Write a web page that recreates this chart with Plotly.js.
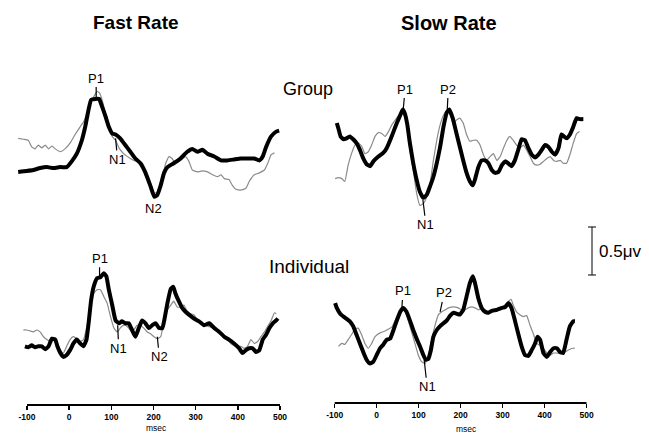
<!DOCTYPE html>
<html>
<head>
<meta charset="utf-8">
<script src="https://cdn.plot.ly/plotly-3.0.1.min.js"></script>
<style>html,body{margin:0;padding:0;background:#fff;}#plot{width:649px;height:435px;}</style>
</head>
<body>
<div id="plot"></div>
<script>
// ---- Data (time in msec, amplitude in microvolts) ----
const tickVals = [-100, 0, 100, 200, 300, 400, 500];
const tickLabels = ["-100", "0", "100", "200", "300", "400", "500"];

// Group, Fast Rate
const groupFastBlackT = [-121,-101,-85,-69,-53,-37,-21,-6,6,18,30,38,46,52,62,71,78,86,94,102,110,121,133,145,157,169,181,193,202,209,217,225,233,248,264,280,292,304,316,328,344,360,375,391,407,423,439,451,459,467,479,491,498];
const groupFastBlackV = [-0.02,-0.01,0,0.02,0.03,0.02,0.03,0.03,0.09,0.17,0.31,0.45,0.63,0.73,0.74,0.74,0.66,0.56,0.45,0.38,0.37,0.33,0.26,0.19,0.12,0.07,-0.03,-0.17,-0.28,-0.26,-0.16,-0.03,0.03,0.07,0.12,0.19,0.22,0.19,0.21,0.17,0.14,0.10,0.10,0.11,0.12,0.12,0.12,0.10,0.14,0.24,0.35,0.40,0.41];
const groupFastGrayT = [-121,-109,-97,-89,-81,-73,-65,-57,-49,-41,-33,-21,-10,2,14,26,34,42,50,58,66,72,78,86,94,102,110,118,129,145,153,161,169,181,193,202,210,221,229,237,244,252,264,276,284,292,304,316,328,340,352,360,368,379,387,395,407,419,427,439,451,463,471,479,487];
const groupFastGrayV = [0.33,0.32,0.31,0.24,0.22,0.26,0.23,0.26,0.22,0.25,0.22,0.19,0.22,0.28,0.37,0.45,0.50,0.59,0.69,0.76,0.82,0.80,0.73,0.59,0.45,0.35,0.31,0.23,0.17,0.12,0.10,0.09,0.07,-0.02,-0.14,-0.24,-0.23,-0.07,0.07,0.14,0.12,0.07,0.10,0.14,0.09,0,-0.02,-0.01,-0.02,-0.05,-0.07,-0.05,-0.09,-0.10,-0.16,-0.20,-0.21,-0.19,-0.12,-0.05,-0.03,0,0.07,0.16,0.18];

// Group, Slow Rate
const groupSlowBlackT = [-95,-91,-86,-79,-72,-64,-56,-48,-40,-32,-24,-16,-8,4,16,24,32,40,48,56,62,67,73,79,87,95,103,111,119,127,135,143,151,159,167,173,181,190,198,206,214,222,229,234,242,250,258,266,274,282,290,298,306,313,321,329,337,345,353,361,369,377,385,393,401,409,417,425,433,440,452,460,468,476,484,492];
const groupSlowBlackV = [0.49,0.43,0.35,0.32,0.33,0.35,0.32,0.28,0.21,0.12,0.06,0.04,0.09,0.14,0.18,0.23,0.31,0.40,0.49,0.57,0.63,0.59,0.47,0.28,0.07,-0.10,-0.23,-0.29,-0.26,-0.17,-0.07,0.07,0.24,0.45,0.60,0.63,0.54,0.38,0.24,0.10,-0.03,-0.12,-0.16,-0.10,0.03,0.10,0.10,0.07,0,-0.03,-0.02,0.05,0.09,0.07,0.04,0.10,0.21,0.32,0.31,0.23,0.16,0.13,0.16,0.21,0.26,0.24,0.19,0.16,0.23,0.37,0.33,0.37,0.45,0.54,0.53,0.53];
const groupSlowGrayT = [-99,-91,-83,-76,-68,-60,-52,-44,-36,-28,-20,-12,-4,4,12,20,28,36,44,52,60,67,73,79,87,95,103,111,119,127,135,143,151,159,167,175,183,190,198,206,214,222,230,238,246,254,262,270,278,286,294,302,310,317,325,333,341,349,357,365,373,381,389,397,405,413,421,429,437,444,452,460,468,476,483];
const groupSlowGrayV = [-0.09,-0.08,-0.09,-0.12,0.05,0.17,0.26,0.28,0.25,0.17,0.19,0.26,0.35,0.39,0.38,0.35,0.40,0.47,0.52,0.57,0.60,0.56,0.42,0.21,0,-0.24,-0.37,-0.35,-0.28,-0.14,0.10,0.31,0.47,0.57,0.62,0.57,0.49,0.52,0.54,0.49,0.37,0.30,0.31,0.31,0.26,0.16,0.10,0.14,0.17,0.10,0.14,0.23,0.31,0.35,0.31,0.26,0.23,0.26,0.21,0.14,0.07,0.05,0.06,0.09,0.12,0.14,0.10,0.09,0.10,0.07,0.07,0.16,0.28,0.38,0.40];

// Individual, Fast Rate
const indivFastBlackT = [-105,-97,-89,-81,-73,-65,-57,-49,-41,-33,-28,-21,-14,-6,2,10,18,26,34,41,46,52,58,66,74,82,88,94,102,110,118,125,133,141,149,157,165,173,181,189,197,205,213,221,225,233,241,247,252,260,268,276,284,296,308,320,332,344,356,368,379,391,403,411,419,427,435,443,451,459,467,475,483,491,495];
const indivFastBlackV = [-0.17,-0.18,-0.16,-0.18,-0.17,-0.17,-0.20,-0.17,-0.09,-0.10,-0.17,-0.24,-0.28,-0.26,-0.21,-0.14,-0.10,-0.14,-0.17,-0.10,0.07,0.31,0.45,0.54,0.55,0.59,0.56,0.42,0.26,0.10,0.07,0.09,0.07,0.07,0,-0.07,0.02,0.10,0.07,0.02,0.05,0.07,0.02,0.02,0.09,0.28,0.43,0.45,0.38,0.30,0.23,0.19,0.16,0.12,0.09,0.05,0.07,0.02,-0.02,-0.07,-0.10,-0.14,-0.19,-0.24,-0.21,-0.19,-0.19,-0.23,-0.21,-0.10,-0.05,0.02,0.07,0.10,0.12];
const indivFastGrayT = [-109,-101,-93,-85,-77,-69,-61,-53,-45,-37,-29,-21,-14,-6,2,10,18,26,34,42,50,58,66,74,82,90,98,106,114,121,129,137,145,153,161,169,177,185,193,201,209,217,225,233,241,248,256,264,272,280,288,296,304,312,320,328,336,344,352,360,368,375,383,391,399,407,415,423,431,439,447,455,463,471,479,487,491];
const indivFastGrayV = [0,0,-0.01,-0.02,0,-0.02,-0.07,-0.10,-0.12,-0.10,-0.14,-0.21,-0.24,-0.17,-0.10,-0.07,-0.09,-0.12,-0.10,0.04,0.24,0.38,0.42,0.42,0.35,0.28,0.14,0.02,-0.02,0.02,0.05,0.04,0,0,0.05,0.05,0.02,-0.02,-0.04,-0.07,-0.09,-0.07,0.10,0.21,0.26,0.30,0.24,0.24,0.26,0.19,0.17,0.16,0.10,0.07,0.05,0.04,0.03,0.01,-0.02,-0.04,-0.09,-0.10,-0.14,-0.16,-0.17,-0.17,-0.19,-0.17,-0.10,-0.14,-0.12,-0.07,-0.02,0.04,0.10,0.18,0.17];

// Individual, Slow Rate
const indivSlowBlackT = [-99,-95,-87,-76,-64,-56,-48,-40,-32,-24,-16,-8,0,8,16,24,32,40,48,56,63,71,79,87,95,103,111,117,123,129,135,143,151,159,167,175,183,190,198,206,214,222,229,234,242,250,258,266,274,286,298,306,314,321,329,337,345,353,361,369,377,383,389,397,405,413,421,429,437,444,452,460,468,472];
const indivSlowBlackV = [0.28,0.23,0.17,0.13,0.09,0.04,-0.05,-0.14,-0.23,-0.31,-0.35,-0.33,-0.26,-0.19,-0.15,-0.10,-0.09,0,0.10,0.19,0.23,0.19,0.10,0,-0.09,-0.17,-0.26,-0.31,-0.30,-0.21,-0.07,0,0.04,0.07,0.10,0.15,0.18,0.17,0.16,0.21,0.35,0.49,0.56,0.49,0.33,0.23,0.19,0.18,0.20,0.21,0.23,0.24,0.28,0.23,0.10,-0.04,-0.17,-0.26,-0.27,-0.21,-0.14,-0.07,-0.10,-0.24,-0.28,-0.23,-0.19,-0.19,-0.23,-0.24,-0.10,0.04,0.09,0.09];
const indivSlowGrayT = [-91,-83,-76,-68,-60,-52,-44,-36,-28,-20,-12,-4,8,20,28,36,44,52,60,67,75,83,91,99,107,115,123,131,139,147,155,163,171,183,194,202,210,218,226,234,242,250,258,266,274,282,290,298,306,314,320,325,333,341,349,357,365,373,381,389,397,405,413,421,429,437,444,452,460,468,472];
const indivSlowGrayV = [-0.17,-0.14,-0.15,-0.10,-0.05,0.01,0.02,-0.05,-0.14,-0.19,-0.14,-0.07,-0.03,-0.01,0.01,0.03,0.10,0.17,0.23,0.21,0.10,-0.02,-0.14,-0.26,-0.33,-0.35,-0.26,-0.10,0.05,0.16,0.19,0.21,0.23,0.24,0.23,0.21,0.21,0.23,0.24,0.23,0.21,0.23,0.21,0.19,0.21,0.21,0.21,0.23,0.26,0.30,0.32,0.26,0.19,0.16,0.14,0.15,0.05,-0.04,-0.14,-0.16,-0.19,-0.24,-0.26,-0.24,-0.24,-0.24,-0.24,-0.22,-0.20,-0.19,-0.19];

// Peak labels: panel index, label, latency (ms), amplitude (uV)
const peakPanel = [1, 1, 1, 2, 2, 2, 3, 3, 3, 4, 4, 4];
const peakName  = ["P1", "N1", "N2", "P1", "P2", "N1", "P1", "N1", "N2", "P1", "P2", "N1"];
const peakMs    = [64, 110, 200, 63, 168, 110, 72, 115, 209, 60, 151, 113];
const peakUv    = [0.75, 0.33, -0.40, 0.625, 0.625, -0.31, 0.54, 0.05, -0.07, 0.23, 0.19, -0.31];
const peakArrow = [true, true, false, true, true, true, true, true, true, true, true, true];
const peakDy    = [-20, 21, 0, -21, -21, 25, -20, 23, 20, -17, -19, 27];
const peakDx    = [0, 2, 0, 2, 1, 3, 0, 1, 2, 1, 4, 3];

// ---- Plot ----
const FONT = "Arial, 'Liberation Sans', Helvetica, sans-serif";
const W = 649, H = 435;
const grayStyle = {color: '#8a8a8a', width: 1.2, shape: 'spline', smoothing: 0.4};
const blackStyle = {color: '#000000', width: 4, shape: 'spline', smoothing: 0.4};

function pair(t, v, ax, ay, style) {
  return {x: t, y: v, xaxis: ax, yaxis: ay, type: 'scatter', mode: 'lines',
          line: Object.assign({}, style), hoverinfo: 'skip', showlegend: false};
}
const traces = [
  pair(groupFastGrayT, groupFastGrayV, 'x', 'y', grayStyle),
  pair(groupFastBlackT, groupFastBlackV, 'x', 'y', blackStyle),
  pair(groupSlowGrayT, groupSlowGrayV, 'x2', 'y2', grayStyle),
  pair(groupSlowBlackT, groupSlowBlackV, 'x2', 'y2', blackStyle),
  pair(indivFastGrayT, indivFastGrayV, 'x3', 'y3', grayStyle),
  pair(indivFastBlackT, indivFastBlackV, 'x3', 'y3', blackStyle),
  pair(indivSlowGrayT, indivSlowGrayV, 'x4', 'y4', grayStyle),
  pair(indivSlowBlackT, indivSlowBlackV, 'x4', 'y4', blackStyle)
];

const leftDom = [16.5 / W, 280 / W];
const rightDom = [330.5 / W, 586.7 / W];
const topDom = [1 - 215 / H, 1 - 60 / H];
const botLDom = [1 - 405 / H, 1 - 250 / H];
const botRDom = [1 - 403 / H, 1 - 250 / H];

function hiddenAxis(dom, range, anchor) {
  return {domain: dom, range: range, anchor: anchor, visible: false, fixedrange: true};
}
function timeAxis(dom, range, anchor) {
  return {domain: dom, range: range, anchor: anchor, showgrid: false, zeroline: false,
          showline: false, ticks: 'outside', ticklen: 4, tickwidth: 1.5, tickcolor: '#000',
          tickmode: 'array', tickvals: tickVals, ticktext: tickLabels,
          tickfont: {family: FONT, size: 8.5, color: '#000', weight: 'bold'}, fixedrange: true};
}

const annotations = [];
for (let i = 0; i < peakName.length; i++) {
  const p = peakPanel[i];
  const xr = p === 1 ? 'x' : 'x' + p;
  const yr = p === 1 ? 'y' : 'y' + p;
  const a = {xref: xr, yref: yr, x: peakMs[i], y: peakUv[i], text: peakName[i],
             font: {family: FONT, size: 13, color: '#000'}};
  if (peakArrow[i]) {
    Object.assign(a, {showarrow: true, arrowhead: 0, arrowwidth: 1.2, arrowcolor: '#000',
                      ax: peakDx[i], ay: peakDy[i], standoff: 0, startstandoff: 0});
  } else {
    a.showarrow = false;
  }
  annotations.push(a);
}
function txt(x, y, text, size, anchor) {
  return {xref: 'paper', yref: 'paper', x: x / W, y: 1 - y / H, text: text, showarrow: false,
          xanchor: anchor || 'center', yanchor: 'middle',
          font: {family: FONT, size: size, color: '#000'}};
}
annotations.push(txt(136, 23, '<b>Fast Rate</b>', 19));
annotations.push(txt(449, 23, '<b>Slow Rate</b>', 20));
annotations.push(txt(308, 89, 'Group', 18));
annotations.push(txt(309, 266, 'Individual', 19));
annotations.push(txt(597, 251, '0.5\u03bcv', 17, 'left'));
annotations.push(txt(156, 428, 'msec', 8.5));
annotations.push(txt(466, 429, 'msec', 8.5));

const shapes = [
  // time axis lines (-100 to 500 ms)
  {type: 'line', xref: 'x3', yref: 'y3 domain', x0: -100, x1: 500, y0: 0, y1: 0, line: {color: '#000', width: 2}},
  {type: 'line', xref: 'x4', yref: 'y4 domain', x0: -100, x1: 500, y0: 0, y1: 0, line: {color: '#000', width: 2}},
  // calibration bar
  {type: 'line', xref: 'paper', yref: 'paper', x0: 592 / W, x1: 592 / W, y0: 1 - 275 / H, y1: 1 - 227 / H, line: {color: '#000', width: 1}},
  {type: 'line', xref: 'paper', yref: 'paper', x0: 588 / W, x1: 596 / W, y0: 1 - 227 / H, y1: 1 - 227 / H, line: {color: '#000', width: 1}},
  {type: 'line', xref: 'paper', yref: 'paper', x0: 588 / W, x1: 596 / W, y0: 1 - 275 / H, y1: 1 - 275 / H, line: {color: '#000', width: 1}}
];

const layout = {
  width: W, height: H, margin: {l: 0, r: 0, t: 0, b: 0},
  paper_bgcolor: '#fff', plot_bgcolor: 'rgba(0,0,0,0)', showlegend: false,
  xaxis: hiddenAxis(leftDom, [-125, 500], 'y'),
  yaxis: hiddenAxis(topDom, [-0.46875, 1.14583], 'x'),
  xaxis2: hiddenAxis(rightDom, [-110, 500], 'y2'),
  yaxis2: hiddenAxis(topDom, [-0.46875, 1.14583], 'x2'),
  xaxis3: timeAxis(leftDom, [-125, 500], 'y3'),
  yaxis3: hiddenAxis(botLDom, [-0.78125, 0.83333], 'x3'),
  xaxis4: timeAxis(rightDom, [-110, 500], 'y4'),
  yaxis4: hiddenAxis(botRDom, [-0.76042, 0.83333], 'x4'),
  annotations: annotations,
  shapes: shapes,
  font: {family: FONT}
};

Plotly.newPlot('plot', traces, layout, {staticPlot: true, displayModeBar: false});
</script>
</body>
</html>
